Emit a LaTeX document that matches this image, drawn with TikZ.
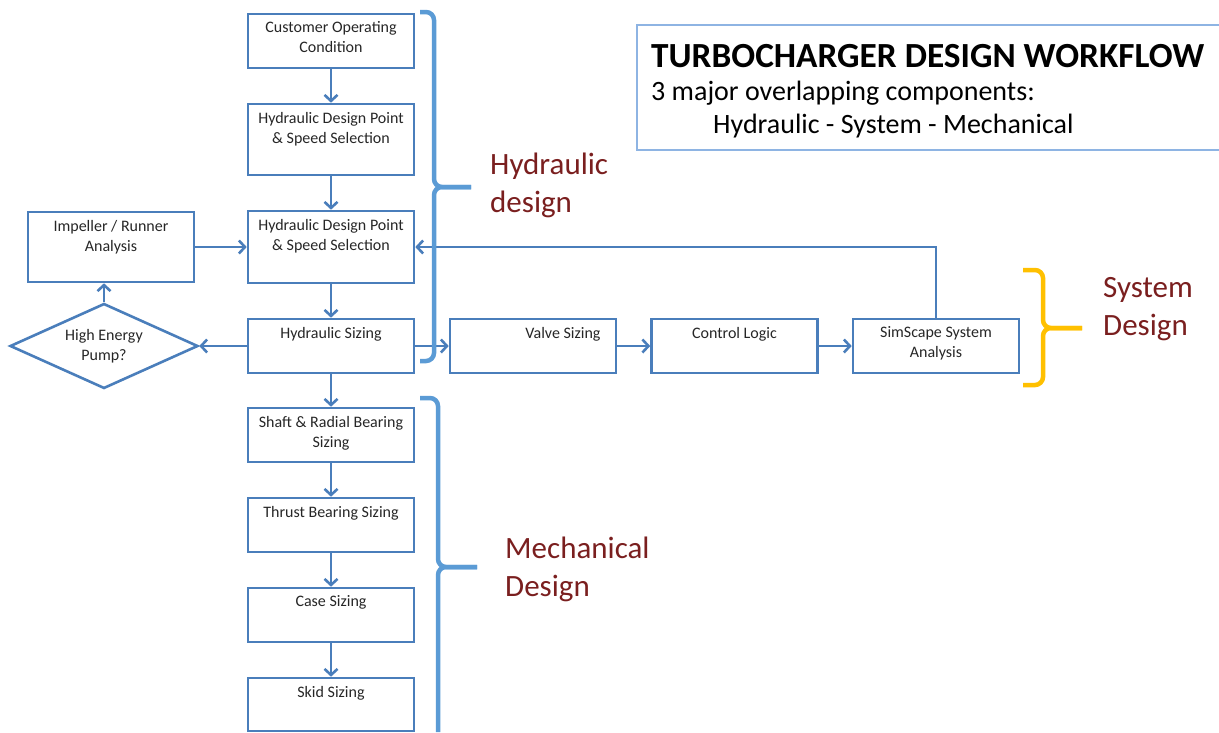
\documentclass[tikz,border=0pt]{standalone}
\usepackage{fontspec}
\setmainfont{Carlito}
\usepackage{tikz}
\usetikzlibrary{arrows.meta,positioning,shapes.geometric}
\definecolor{Edge}{HTML}{4A7EBB}
\definecolor{Brace}{HTML}{5B9BD5}
\definecolor{Gold}{HTML}{FFC000}
\definecolor{Maroon}{HTML}{7A1F1F}
\definecolor{Ink}{HTML}{262626}
\definecolor{Frame}{HTML}{8EB4E3}

\begin{document}
\begin{tikzpicture}[x=1pt,y=-1pt,
  stepbox/.style={draw=Edge,line width=2.6pt,minimum width=166pt,minimum height=54pt,inner sep=0pt},
  steptext/.style={anchor=north,align=center,inner sep=0pt,label distance=-9pt,text=Ink,font=\fontsize{16}{20}\selectfont},
  flow/.style={draw=Edge,line width=2.6pt,-{Straight Barb[length=6pt,width=13pt]}},
  brace/.style={line width=4.5pt,rounded corners=8pt},
  tag/.style={anchor=west,align=left,inner sep=0pt,text=Maroon,font=\fontsize{31}{38}\selectfont}]
  \useasboundingbox (0,0) rectangle (1219,732);

  % main column
  \node[stepbox,label={[steptext]north:{Customer Operating\\Condition}}] (cust) at (331,41) {};
  \node[stepbox,minimum height=71pt,label={[steptext]north:{Hydraulic Design Point\\\& Speed Selection}}] (dp1) at (331,139.5) {};
  \node[stepbox,minimum height=72pt,label={[steptext]north:{Hydraulic Design Point\\\& Speed Selection}}] (dp2) at (331,247) {};
  \node[stepbox,label={[steptext]north:{Hydraulic Sizing}}] (hsize) at (331,346) {};
  \node[stepbox,label={[steptext]north:{Shaft \& Radial Bearing\\Sizing}}] (shaft) at (331,435) {};
  \node[stepbox,label={[steptext]north:{Thrust Bearing Sizing}}] (thrust) at (331,525) {};
  \node[stepbox,label={[steptext]north:{Case Sizing}}] (case) at (331,615) {};
  \node[stepbox,minimum height=53pt,label={[steptext]north:{Skid Sizing}}] (skid) at (331,704.5) {};

  % left side
  \node[stepbox,minimum height=70pt,label={[steptext]north:{Impeller / Runner\\Analysis}}] (imp) at (111,247) {};
  \node[draw=Edge,line width=2.6pt,diamond,aspect=2.2,minimum width=188pt,minimum height=85pt,inner sep=0pt,
        align=center,text=Ink,font=\fontsize{16}{20}\selectfont] (hep) at (104,346) {High Energy\\Pump?};

  % system row
  \node[stepbox,label={[steptext,xshift=30pt]north:{Valve Sizing}}] (valve) at (533,346) {};
  \node[stepbox,label={[steptext]north:{Control Logic}}] (ctrl) at (734.5,346) {};
  \node[stepbox,label={[steptext]north:{SimScape System\\Analysis}}] (sim) at (936,346) {};

  \foreach \a/\b in {cust/dp1,dp1/dp2,dp2/hsize,hsize/shaft,shaft/thrust,thrust/case,case/skid,
                     imp/dp2,hsize/hep,hsize/valve,valve/ctrl,ctrl/sim}
    \draw[flow] (\a) -- (\b);
  \draw[flow] (hep.north) -- (hep.north |- imp.south);
  \draw[flow] (sim.north) |- (dp2.east);

  % braces
  \draw[brace,Brace] (420,12) -- (434,12) -- (434,187) -- (471,187);
  \draw[brace,Brace] (420,361) -- (434,361) -- (434,187) -- (471,187);
  \draw[brace,Brace] (420,398) -- (438,398) -- (438,567) -- (477,567);
  \draw[brace,Brace] (438,732) -- (438,567) -- (477,567);
  \draw[brace,Gold] (1023,270) -- (1043,270) -- (1043,328) -- (1082,328);
  \draw[brace,Gold] (1023,385) -- (1043,385) -- (1043,328) -- (1082,328);

  \node[tag] (hydtag) at (490,185) {Hydraulic\\design};
  \node[tag] (systag) at (1103,309) {System\\Design};
  \node[tag] (mechtag) at (505,569) {Mechanical\\Design};

  % heading
  \draw[Frame,line width=1.5pt] (1219,25) -- (637,25) -- (637,150) -- (1219,150);
  \node[anchor=base west,inner sep=0pt,font=\fontsize{35.3}{42}\selectfont\bfseries] (title) at (651,67) {TURBOCHARGER DESIGN WORKFLOW};
  \node[anchor=base west,inner sep=0pt,font=\fontsize{28}{34}\selectfont] (sub) at (651,100) {3 major overlapping components:};
  \node[anchor=base west,inner sep=0pt,font=\fontsize{28}{34}\selectfont] (parts) at (713,133) {Hydraulic - System - Mechanical};
\end{tikzpicture}
\end{document}
